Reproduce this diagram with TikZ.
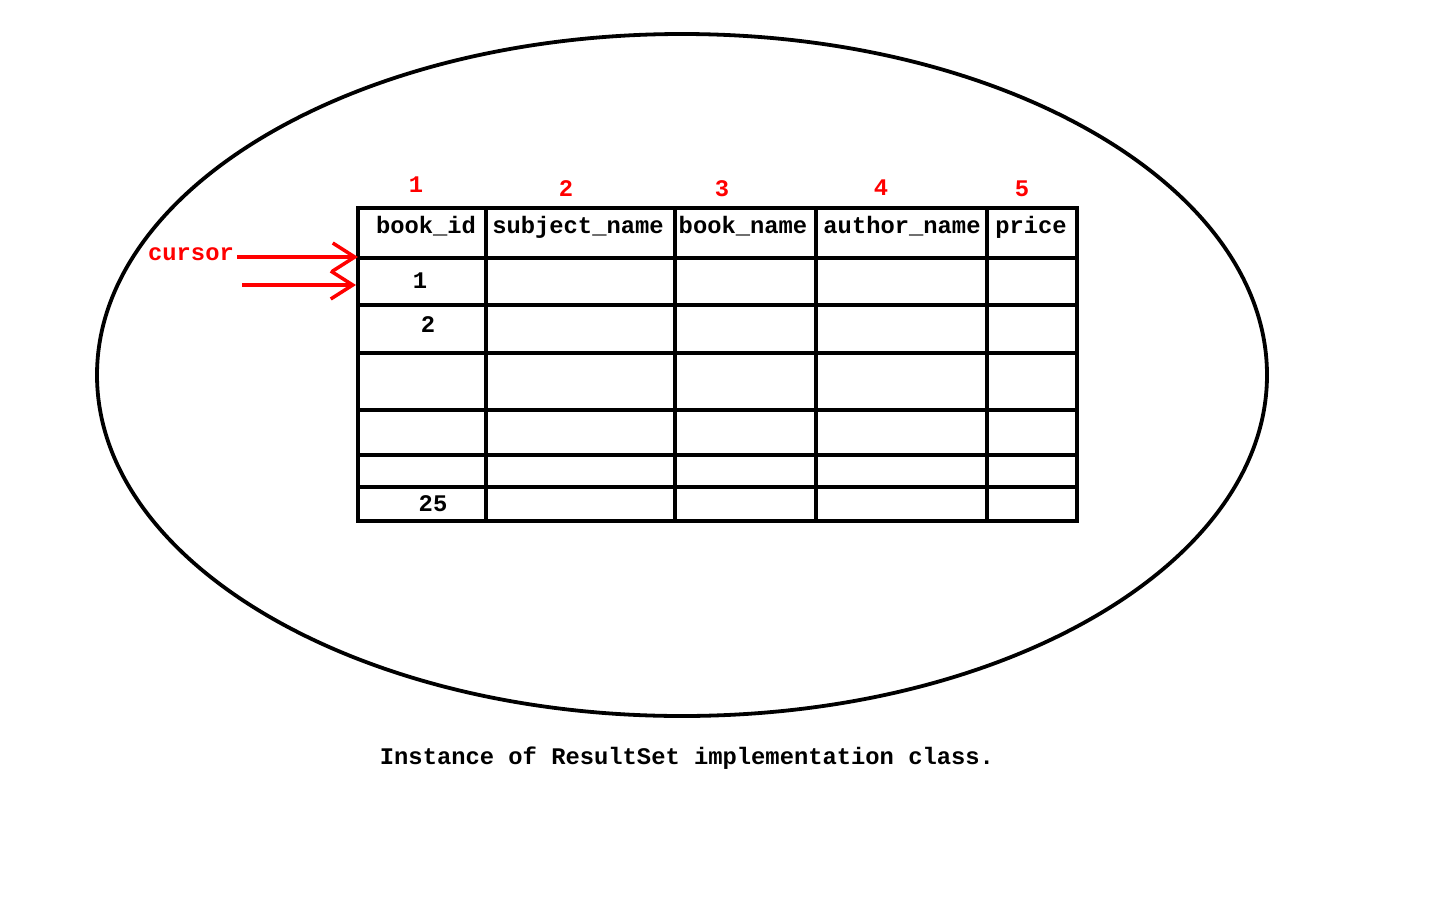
\documentclass[tikz,border=0pt]{standalone}
\usepackage{fontspec}
\setmonofont{Liberation Mono}
\usetikzlibrary{arrows.meta,shapes.geometric}
\definecolor{cred}{RGB}{255,0,0}
\begin{document}
\begin{tikzpicture}[x=1pt,y=-1pt,
  txt/.style={font=\fontsize{23.8}{28}\selectfont\ttfamily\bfseries, anchor=base, inner sep=0pt},
  rtxt/.style={txt, text=cred},
  cell/.style={draw, line width=3.5pt, rectangle, inner sep=0pt},
  ptr/.style={draw=cred, line width=3.5pt, -{Straight Barb[length=22pt,width=28pt,line width=3.5pt]}}]
\useasboundingbox (0,0) rectangle (1440,900);
\fill[white] (0,0) rectangle (1440,900);
% enclosing ellipse
\node[draw, line width=3.8pt, ellipse, minimum width=1170pt, minimum height=682pt, inner sep=0pt] (inst) at (682,375) {};
% table grid
\foreach \xa/\xb [count=\i] in {358/486,486/675,675/816,816/987,987/1077}{
  \foreach \ya/\yb [count=\j] in {208/258,258/305,305/353,353/410,410/455,455/487,487/521}{
    \node[cell, minimum width={\xb-\xa}, minimum height={\yb-\ya}] (c\j-\i) at ({(\xa+\xb)/2},{(\ya+\yb)/2}) {};
  }
}
% header texts
\node[txt] (h1) at (426,233) {book\_id};
\node[txt] (h2) at (578,233) {subject\_name};
\node[txt] (h3) at (743,233) {book\_name};
\node[txt] (h4) at (902,233) {author\_name};
\node[txt] (h5) at (1031,233) {price};
% column numbers
\node[rtxt] (n1) at (416,192) {1};
\node[rtxt] (n2) at (566,196) {2};
\node[rtxt] (n3) at (722,196) {3};
\node[rtxt] (n4) at (881,195) {4};
\node[rtxt] (n5) at (1022,196) {5};
% row values
\node[txt] (v1) at (420,288) {1};
\node[txt] (v2) at (428,332) {2};
\node[txt] (v25) at (433,511) {25};
% cursor
\node[rtxt] (cur) at (191,260) {cursor};
\coordinate (p1s) at (237,257);
\coordinate (p1e) at (358,257);
\coordinate (p2s) at (242,285);
\coordinate (p2e) at (356,285);
\draw[ptr] (p1s) -- (p1e);
\draw[ptr] (p2s) -- (p2e);
% caption
\node[txt] (cap) at (687,764) {Instance of ResultSet implementation class.};
\end{tikzpicture}
\end{document}
